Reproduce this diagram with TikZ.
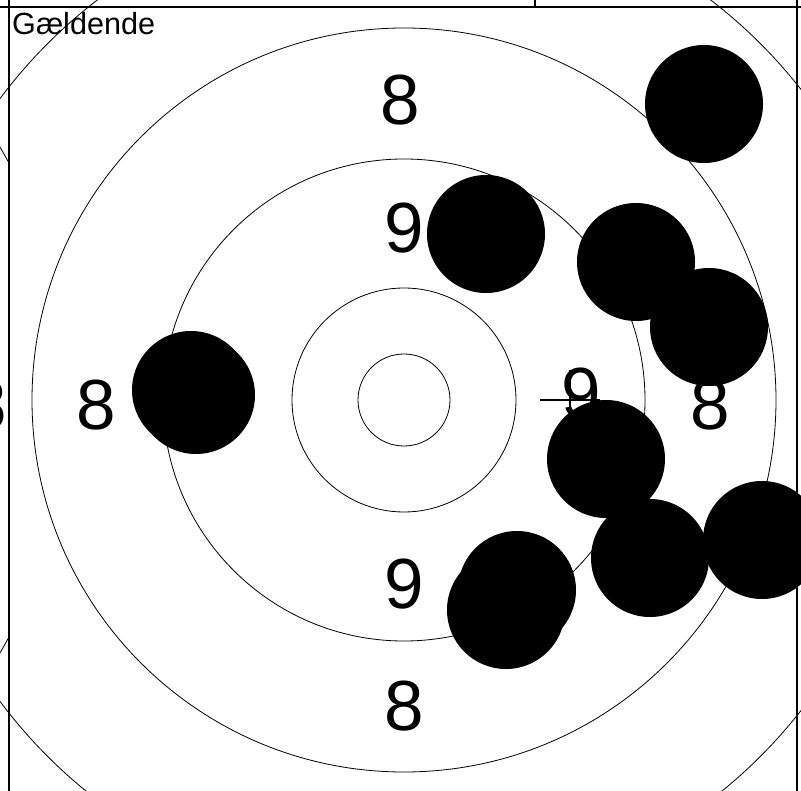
\documentclass[tikz,border=0pt]{standalone}
\usepackage{fontspec}
\setmainfont{Liberation Sans}
\tikzset{
  ring/.style={line width=0.8pt},
  panel/.style={line width=1.6pt},
  shot/.style={fill=black},
  score/.style={inner sep=0pt, font=\fontsize{71}{71}\selectfont},
}
\begin{document}
\begin{tikzpicture}[x=1pt, y=-1pt]
  \useasboundingbox (0,0) rectangle (801,791);
  % neighbouring target, only its edge shows left of the panel
  \begin{scope}
    \clip (-10,0) rectangle (9,791);
    \draw[ring] (-436,400) circle [radius=504pt];
    \node[score] (nbeight) at (-13,405) {8};
  \end{scope}
  % rings
  \foreach \r in {46,112,241,372,504}
    \draw[ring] (404,400) circle [radius=\r pt];
  % ring numbers
  \node[score] (eightN) at (400,100) {8};
  \node[score] (nineN) at (404,228) {9};
  \node[score] (nineS) at (404,584) {9};
  \node[score] (eightS) at (404,706) {8};
  \node[score] (eightW) at (96,405) {8};
  \node[score] (nineW) at (228,402) {9};
  \node[score] (nineE) at (581,393) {9};
  \node[score] (eightE) at (710,405) {8};
  % centre mark
  \coordinate (mark) at (570,400);
  \draw[line width=1.3pt] ([xshift=-30pt]mark) -- ([xshift=30pt]mark);
  \draw[line width=1.3pt] ([yshift=30pt]mark) -- ([yshift=-30pt]mark);
  % shots
  \foreach \sx/\sy in {704/104, 486/234, 636/262, 709/327, 191/390, 196/395,
                       606/459, 650/558, 762/540, 517/590, 506/610}
    \fill[shot] (\sx,\sy) circle [radius=59pt];
  % panel frame and header row
  \draw[panel] (0,7) -- (801,7);
  \draw[panel] (9,0) -- (9,791);
  \draw[panel] (797,0) -- (797,791);
  \draw[panel] (535,0) -- (535,7);
  \node[inner sep=0pt, anchor=base west, font=\fontsize{30.6}{31}\selectfont]
    (title) at (12,35) {Gældende};
\end{tikzpicture}
\end{document}
